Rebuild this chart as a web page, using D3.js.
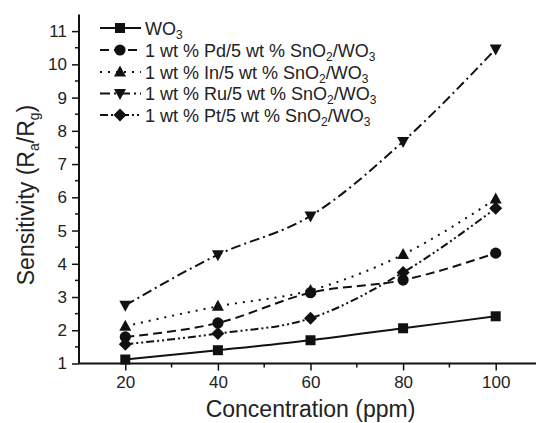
<!DOCTYPE html>
<html>
<head>
<meta charset="utf-8">
<script src="https://cdn.jsdelivr.net/npm/d3@7/dist/d3.min.js"></script>
<style>
  html, body { margin: 0; padding: 0; background: #fff; }
  svg { display: block; font-family: "Liberation Sans", Arial, sans-serif; }
</style>
</head>
<body>
<svg id="chart" width="536" height="423"></svg>
<script>
// Gas concentration (ppm)
const concentrations = [20, 40, 60, 80, 100];

// Sensitivity (Ra/Rg) for each sensor material
const wo3 = [1.12, 1.40, 1.70, 2.06, 2.42];
const pdSnO2 = [1.80, 2.22, 3.13, 3.51, 4.32];
const inSnO2 = [2.12, 2.72, 3.20, 4.28, 5.95];
const ruSnO2 = [2.75, 4.27, 5.44, 7.68, 10.46];
const ptSnO2 = [1.58, 1.90, 2.36, 3.74, 5.67];

const xTicks = [20, 40, 60, 80, 100];
const yTicks = [1, 2, 3, 4, 5, 6, 7, 8, 9, 10, 11];

const series = [
  { prefix: "WO", sub: "3", tail: "", values: wo3, symbol: "square", dash: null },
  { prefix: "1 wt % Pd/5 wt % SnO", sub: "2", tail: "/WO", values: pdSnO2, symbol: "circle", dash: "9,5" },
  { prefix: "1 wt % In/5 wt % SnO", sub: "2", tail: "/WO", values: inSnO2, symbol: "triangleUp", dash: "2,6" },
  { prefix: "1 wt % Ru/5 wt % SnO", sub: "2", tail: "/WO", values: ruSnO2, symbol: "triangleDown", dash: "10,4,2,4" },
  { prefix: "1 wt % Pt/5 wt % SnO", sub: "2", tail: "/WO", values: ptSnO2, symbol: "diamond", dash: "8,3,2,3,2,3" }
];

const svg = d3.select("#chart");

const x = d3.scaleLinear().domain([10, 110]).range([79, 542]);
const y = d3.scaleLinear().domain([1, 11.5]).range([363.5, 14.5]);

// Markers
function markerPath(kind, s) {
  switch (kind) {
    case "square": return `M${-s},${-s}H${s}V${s}H${-s}Z`;
    case "circle": return d3.symbol(d3.symbolCircle, Math.PI * s * s * 1.25)();
    case "triangleUp": return `M0,${-s * 1.3}L${s * 1.2},${s * 0.9}L${-s * 1.2},${s * 0.9}Z`;
    case "triangleDown": return `M0,${s * 1.3}L${s * 1.2},${-s * 0.9}L${-s * 1.2},${-s * 0.9}Z`;
    case "diamond": return `M0,${-s * 1.3}L${s * 1.3},0L0,${s * 1.3}L${-s * 1.3},0Z`;
  }
}

const line = d3.line()
  .x((d, i) => x(concentrations[i]))
  .y(d => y(d))
  .curve(d3.curveMonotoneX);

const plot = svg.append("g");

series.forEach(s => {
  plot.append("path")
    .attr("d", line(s.values))
    .attr("fill", "none")
    .attr("stroke", "#111")
    .attr("stroke-width", 2)
    .attr("stroke-dasharray", s.dash);
});

series.forEach(s => {
  plot.selectAll(null)
    .data(s.values)
    .join("path")
    .attr("transform", (d, i) => `translate(${x(concentrations[i])},${y(d)})`)
    .attr("d", markerPath(s.symbol, 5))
    .attr("fill", "#111");
});

// Axes
const xAxis = svg.append("g").attr("transform", `translate(0,${y(1)})`);
xAxis.call(d3.axisBottom(x).tickValues(xTicks).tickSize(7).tickPadding(5).tickFormat(d3.format("d")));
xAxis.append("g").selectAll("line")
  .data([30, 50, 70, 90, 110])
  .join("line")
  .attr("x1", d => x(d)).attr("x2", d => x(d))
  .attr("y1", 0).attr("y2", 4)
  .attr("stroke", "#111").attr("stroke-width", 1.5);

const yAxis = svg.append("g").attr("transform", `translate(${x(10)},0)`);
yAxis.call(d3.axisLeft(y).tickValues(yTicks).tickSize(7).tickPadding(5).tickFormat(d3.format("d")));
yAxis.append("g").selectAll("line")
  .data(d3.range(1.5, 11.5, 1))
  .join("line")
  .attr("x1", 0).attr("x2", -4)
  .attr("y1", d => y(d)).attr("y2", d => y(d))
  .attr("stroke", "#111").attr("stroke-width", 1.5);

[xAxis, yAxis].forEach(a => {
  a.select(".domain").attr("stroke", "#111").attr("stroke-width", 2);
  a.selectAll(".tick line").attr("stroke", "#111").attr("stroke-width", 1.5);
  a.selectAll(".tick text")
    .attr("fill", "#222")
    .style("font-size", "17px")
    .style("font-family", "'Liberation Sans', Arial, sans-serif");
});
// Domain paths without outer ticks
xAxis.select(".domain").attr("d", `M${x(10)},0H${x(110)}`);
yAxis.select(".domain").attr("d", `M0,${y(1)}V${y(11.5)}`);

// Axis titles
svg.append("text")
  .attr("x", x(60))
  .attr("y", 417)
  .attr("text-anchor", "middle")
  .attr("fill", "#222")
  .style("font-size", "23px")
  .text("Concentration (ppm)");

const yt = svg.append("text")
  .attr("transform", `translate(34,195) rotate(-90)`)
  .attr("text-anchor", "middle")
  .attr("fill", "#222")
  .style("font-size", "23px");
yt.append("tspan").text("Sensitivity (R");
yt.append("tspan").attr("dy", 5).style("font-size", "14px").text("a");
yt.append("tspan").attr("dy", -5).text("/R");
yt.append("tspan").attr("dy", 5).style("font-size", "14px").text("g");
yt.append("tspan").attr("dy", -5).text(")");

// Legend
const legend = svg.append("g");
const rowY = [28, 50, 72, 93.5, 115];
series.forEach((s, i) => {
  const g = legend.append("g").attr("transform", `translate(0,${rowY[i]})`);
  g.append("line")
    .attr("x1", 100).attr("x2", 141)
    .attr("y1", 0).attr("y2", 0)
    .attr("stroke", "#111").attr("stroke-width", 2)
    .attr("stroke-dasharray", s.dash);
  g.append("path")
    .attr("transform", "translate(120,0)")
    .attr("d", markerPath(s.symbol, 5))
    .attr("fill", "#111");
  const t = g.append("text")
    .attr("x", 145)
    .attr("y", 6.5)
    .attr("fill", "#222")
    .style("font-size", "18px");
  t.append("tspan").text(s.prefix);
  t.append("tspan").attr("dy", 4).style("font-size", "12px").text(s.sub);
  if (s.tail) {
    t.append("tspan").attr("dy", -4).text(s.tail);
    t.append("tspan").attr("dy", 4).style("font-size", "12px").text("3");
  }
});
</script>
</body>
</html>
